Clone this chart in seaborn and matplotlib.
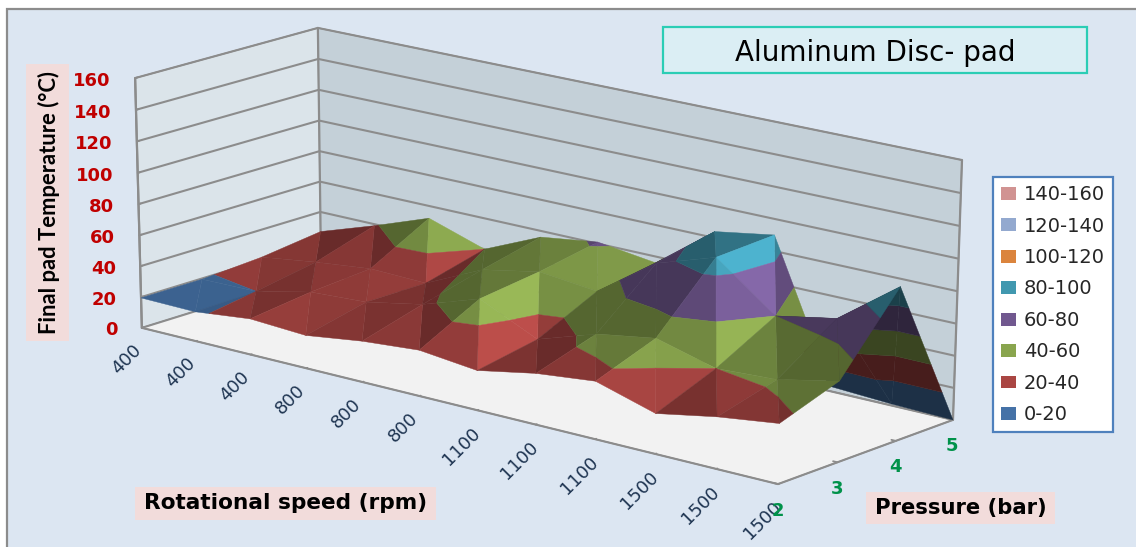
import numpy as np
import matplotlib
matplotlib.use("Agg")
import matplotlib.pyplot as plt
from matplotlib.patches import Rectangle, Patch
from matplotlib.transforms import Affine2D
from mpl_toolkits.mplot3d.art3d import Poly3DCollection
import seaborn as sns

W, H = 1136, 547

# ---------------- data ----------------
speed_labels = ["400", "400", "400", "800", "800", "800", "1100", "1100", "1100", "1500", "1500", "1500"]
pressures = [2, 3, 4, 5]
temp_p2 = [19.5, 19, 23, 21, 26, 29, 25, 32, 36, 25, 32, 37]
temp_p3 = [19.5, 20, 28, 30, 37, 49, 32, 44, 50, 40, 42, 50]
temp_p4 = [22, 27, 31, 30, 47, 54, 50, 76, 88, 60, 67, 95]
temp_p5 = [27, 39, 52, 40, 56, 61, 56, 84, 90, 3, 1, 0]
band_labels = ["0-20", "20-40", "40-60", "60-80", "80-100", "100-120", "120-140", "140-160"]
band_edges = [0, 20, 40, 60, 80, 100, 120, 140, 160]
band_colors = ["#4572A7", "#AA4643", "#89A54E", "#71588F", "#4198AF", "#DB843D", "#93A9CF", "#D19392"]
z_ticks = [0, 20, 40, 60, 80, 100, 120, 140, 160]

# Where the box corners of the 3D chart sit in the picture (camera calibration)
cam_world = [(0, 2, 0), (11, 2, 0), (11, 5, 0), (0, 5, 0), (0, 2, 160), (0, 5, 160), (11, 5, 160)]
cam_pixel = [(142, 328), (778, 484), (953, 420), (321, 272), (135, 78), (318, 28), (962, 160)]

sns.set_theme(style="white")
palette = sns.color_palette(band_colors)
Z = np.array([temp_p2, temp_p3, temp_p4, temp_p5], dtype=float)


def solve_camera():
    S = np.diag([1 / 11, 1 / 3, 1 / 160, 1.0])
    S[1, 3] = -2 / 3
    rows = []
    for w, p in zip(cam_world, cam_pixel):
        X = S @ np.array([*w, 1.0])
        u, v = p[0] / W, p[1] / H
        rows.append([*X, 0, 0, 0, 0, *(-u * X)])
        rows.append([0, 0, 0, 0, *X, *(-v * X)])
    _, _, vt = np.linalg.svd(np.array(rows))
    P = vt[-1].reshape(3, 4)
    P = np.diag([W, H, 1.0]) @ P @ S
    wc = P[2] @ np.array([5.5, 3.5, 80, 1.0])
    return P / wc


P = solve_camera()


def pixel_of(pts):
    pts = np.asarray(pts, float)
    q = P @ np.c_[pts, np.ones(len(pts))].T
    return (q[:2] / q[2]).T


def winding(tri):
    px = pixel_of(tri)
    d1, d2 = px[1] - px[0], px[2] - px[0]
    return d1[0] * d2[1] - d1[1] * d2[0]


def clip_band(tri, lo, hi):
    def clip(poly, level, keep_above):
        out = []
        n = len(poly)
        for k in range(n):
            a, b = poly[k], poly[(k + 1) % n]
            ia = a[2] >= level if keep_above else a[2] <= level
            ib = b[2] >= level if keep_above else b[2] <= level
            if ia:
                out.append(a)
            if ia != ib:
                t = (level - a[2]) / (b[2] - a[2])
                out.append(a + t * (b - a))
        return out
    poly = clip(list(tri), lo, True)
    if len(poly) >= 3:
        poly = clip(poly, hi, False)
    return poly if len(poly) >= 3 else None


LIGHT = np.array([0.85, -0.1, 0.86])
Z_SCALE = 0.03
FLOOR_SIGN = np.sign(winding(np.array([[0, 2, 0], [1, 2, 0], [0, 3, 0]], float)))


def shade(tri, color):
    a, b, c = tri
    n = np.cross((b - a) * [1, 1, Z_SCALE], (c - a) * [1, 1, Z_SCALE])
    up = np.sign(n[2]) if n[2] != 0 else 1.0
    n = up * n / np.linalg.norm(n)
    if np.sign(winding(tri)) * up != FLOOR_SIGN:
        f = 0.42  # underside seen from the camera
    else:
        d = float(np.dot(n, LIGHT)) - 0.86
        f = 0.86 + 1.4 * np.sign(d) * abs(d) ** 1.4
        f = float(np.clip(f, 0.62, 1.45))
    return tuple(np.clip(np.array(color) * f, 0, 1))


fig = plt.figure(figsize=(W / 100, H / 100), dpi=100, facecolor="white")
side = W / H
ax = fig.add_axes([0, (1 - side) / 2, 1, side], projection="3d", computed_zorder=False)
ax.patch.set_visible(False)
ax.set_facecolor("none")


def frect(x0, y0, x1, y1, **kw):
    fig.add_artist(Rectangle((x0 / W, 1 - y1 / H), (x1 - x0) / W, (y1 - y0) / H,
                             transform=fig.transFigure, **kw))


frect(7, 9, W + 20, H + 20, facecolor="#DCE6F2", edgecolor="#8C8C8C", linewidth=1.6, zorder=-5)
frect(663, 27, 1087, 73, facecolor="#DBEEF4", edgecolor="#2BCDB5", linewidth=1.6, zorder=2)
frect(26, 64, 69, 341, facecolor="#F2DCDB", edgecolor="none", zorder=2)
frect(135, 487, 436, 520, facecolor="#F2DCDB", edgecolor="none", zorder=2)
frect(866, 492, 1055, 524, facecolor="#F2DCDB", edgecolor="none", zorder=2)


def ftext(x, y, s, **kw):
    fig.text(x / W, 1 - y / H, s, ha="center", va="center", zorder=3, **kw)


ftext(875, 53, "Aluminum Disc- pad", fontsize=20, color="black", family="DejaVu Sans")
ftext(49, 203, "Final pad Temperature (°C)", rotation=90, fontsize=15.8, color="black",
      family=["Lato", "DejaVu Sans"], fontweight="bold")
ftext(286, 503, "Rotational speed (rpm)", fontsize=15.6, color="black", fontweight="bold", family="DejaVu Sans")
ftext(961, 508, "Pressure (bar)", fontsize=15.2, color="black", fontweight="bold", family="DejaVu Sans")

# ---------------- surface ----------------
nj, ni = Z.shape
order = 10
for j in range(nj - 2, -1, -1):
    for i in range(ni - 1):
        c00 = np.array([i, pressures[j], Z[j, i]])
        c10 = np.array([i + 1, pressures[j], Z[j, i + 1]])
        c11 = np.array([i + 1, pressures[j + 1], Z[j + 1, i + 1]])
        c01 = np.array([i, pressures[j + 1], Z[j + 1, i]])
        # each cell is split along the diagonal that runs away from the viewer
        tris = [np.array([c00, c10, c01]), np.array([c10, c11, c01])]
        polys, cols = [], []
        for tri in tris:
            for b in range(len(band_labels)):
                poly = clip_band(tri, band_edges[b], band_edges[b + 1])
                if poly is None:
                    continue
                polys.append(np.array(poly))
                cols.append(shade(tri, palette[b]))
        coll = Poly3DCollection(polys, facecolors=cols, edgecolors=cols, linewidths=0.3, zorder=order)
        ax.add_collection3d(coll, autolim=False)
        order += 1

# wall corner edges
for xe, ye in [(0, pressures[0]), (0, pressures[-1]), (ni - 1, pressures[-1])]:
    ax.plot([xe, xe], [ye, ye], [z_ticks[0], z_ticks[-1]], color="#8C8C8C", lw=1.6, zorder=5)

# ---------------- axes ----------------
ax.set_xlim(0, ni - 1, view_margin=0)
ax.set_ylim(pressures[0], pressures[-1], view_margin=0)
ax.set_zlim(z_ticks[0], z_ticks[-1], view_margin=0)
ax.set_xticks(range(ni))
ax.set_xticklabels(speed_labels, rotation=45, fontsize=13, color="#1F3552", family="DejaVu Sans")
ax.set_yticks(pressures)
ax.set_yticklabels([str(p) for p in pressures], fontsize=13, color="#00924A", fontweight="bold", family="DejaVu Sans")
ax.set_zticks(z_ticks)
ax.set_zticklabels([str(t) for t in z_ticks], fontsize=13, color="#C00000", fontweight="bold", family="DejaVu Sans",
                   ha="right")
ax.zaxis.set_ticks_position("lower")

pane_cols = {"x": "#DBE4EA", "y": "#C4D0D8", "z": "#F2F2F2"}
tick_out = {"x": 0.08, "y": 0.08, "z": 0.15}
for name, axis in zip("xyz", (ax.xaxis, ax.yaxis, ax.zaxis)):
    axis.set_pane_color(pane_cols[name])
    axis.pane.set_edgecolor("#8C8C8C")
    axis.line.set_color("#8C8C8C")
    axis.line.set_linewidth(1.5)
    axis.set_tick_params(color="#8C8C8C")
    axis._axinfo["tick"]["linewidth"] = {True: 1.3, False: 0.5}
    axis._axinfo["tick"]["inward_factor"] = 0
    axis._axinfo["tick"]["outward_factor"] = tick_out[name]
ax.xaxis._axinfo["grid"].update(color=(0, 0, 0, 0), linewidth=0)
ax.yaxis._axinfo["grid"].update(color=(0, 0, 0, 0), linewidth=0)
ax.zaxis._axinfo["grid"].update(color="#8C8C8C", linewidth=1.5, linestyle="-")
ax.grid(True)


def shift_labels(axis, dx, dy):
    base = axis.get_major_ticks
    shift = Affine2D().translate(dx, -dy)

    def get_major_ticks(numticks=None):
        ticks = base(numticks)
        for t in ticks:
            t.label1.set_transform(ax.transData + shift)
        return ticks
    axis.get_major_ticks = get_major_ticks


shift_labels(ax.xaxis, -11, 5)
shift_labels(ax.yaxis, -19, 6)
shift_labels(ax.zaxis, -3, -4)

# legend
handles = [Patch(facecolor=palette[b], edgecolor="none") for b in range(len(band_labels) - 1, -1, -1)]
leg = fig.legend(handles, band_labels[::-1], loc="upper left", bbox_to_anchor=(993 / W, 1 - 177 / H),
                 frameon=True, fontsize=14, fancybox=False, borderpad=0.42, labelspacing=0.64,
                 handlelength=0.78, handleheight=0.65, handletextpad=0.4, borderaxespad=0,
                 edgecolor="#4F81BD", facecolor="white", framealpha=1)
leg.get_frame().set_linewidth(1.6)
leg.set_zorder(6)

# ---------------- camera: data coordinates -> this axes' 2D coordinates ----------------
ax.apply_aspect()
inv = ax.transData.inverted()
o = inv.transform((0, H))
e = inv.transform((W, 0))
A = np.array([[(e[0] - o[0]) / W, 0, o[0]],
              [0, (e[1] - o[1]) / H, o[1]],
              [0, 0, 1.0]])
P2 = A @ P
M = np.vstack([P2[0], P2[1], [0, 0, 0, -1.0], P2[2]])
ax.view_init(elev=30, azim=-60)
ax.get_proj = lambda: M

fig.savefig("out.png", dpi=100, facecolor="white")
